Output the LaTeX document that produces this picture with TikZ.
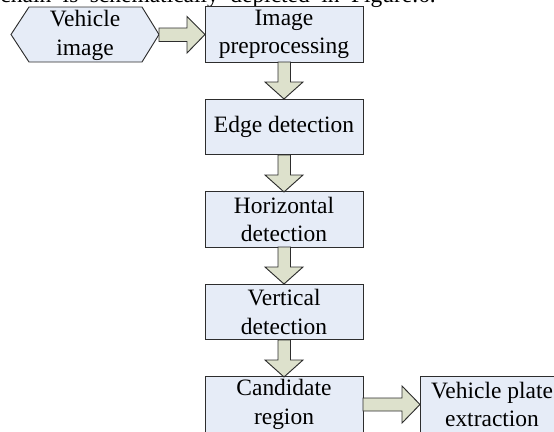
\documentclass[tikz,border=0pt]{standalone}
\usepackage{fontspec}
\setmainfont{Liberation Serif}
\definecolor{boxfill}{RGB}{230,236,247}
\definecolor{arrowfill}{RGB}{221,225,204}
\definecolor{edge}{RGB}{45,45,45}
\tikzset{
  x=0.75pt,y=-0.75pt,
  stagebox/.style={draw=edge,fill=boxfill,line width=0.7pt,minimum width=118.5pt,minimum height=41.5pt,inner sep=0pt,align=center,font=\fontsize{17.6}{21.3}\selectfont},
  hexa/.style={draw=edge,fill=boxfill,line width=0.7pt},
  label/.style={align=center,font=\fontsize{17.6}{21.3}\selectfont,inner sep=0pt},
  flow/.style={draw=edge,fill=arrowfill,line width=0.7pt,line join=miter},
}
\begin{document}
\begin{tikzpicture}
\useasboundingbox (0,0) rectangle (554,432);
\begin{scope}
\clip (0,0) rectangle (554,432);
\node[anchor=base east,inner sep=0pt,font=\fontsize{17.6}{21}\selectfont] (caption) at (436,2.5) {\spaceskip=8.6pt chain is schematically depicted in Figure.6.};
\draw[hexa] (11,34.5) -- (29,7) -- (142,7) -- (159,34.5) -- (142,62) -- (29,62) -- cycle;
\node[label] (vehicle) at (85,35.5) {Vehicle\\image};
\node[stagebox] (prep) at (284,34.5) {Image\\preprocessing};
\node[stagebox] (edge1) at (284,127) {Edge detection};
\node[stagebox] (horiz) at (284,219.5) {Horizontal\\detection};
\node[stagebox] (vert) at (284,312) {Vertical\\detection};
\node[stagebox] (cand) at (284,404.5) {Candidate\\region};
\node[stagebox,minimum width=108pt] (plate) at (492,404.5) {Vehicle plate\\extraction};
% arrows
\draw[flow] (159,28) -- (187,28) -- (187,16.5) -- (205,34.5) -- (187,53) -- (187,41.5) -- (159,41.5) -- cycle;
\foreach \a/\b in {62/99,155/192,247/284,340/377}{
  \draw[flow] (278,\a) -- (278,{\a+20}) -- (265,{\a+20}) -- (284,\b) -- (303,{\a+20}) -- (290.5,{\a+20}) -- (290.5,\a) -- cycle;
}
\draw[flow] (363,398) -- (402,398) -- (402,386) -- (420,404.5) -- (402,423) -- (402,411) -- (363,411) -- cycle;
\end{scope}
\end{tikzpicture}
\end{document}
